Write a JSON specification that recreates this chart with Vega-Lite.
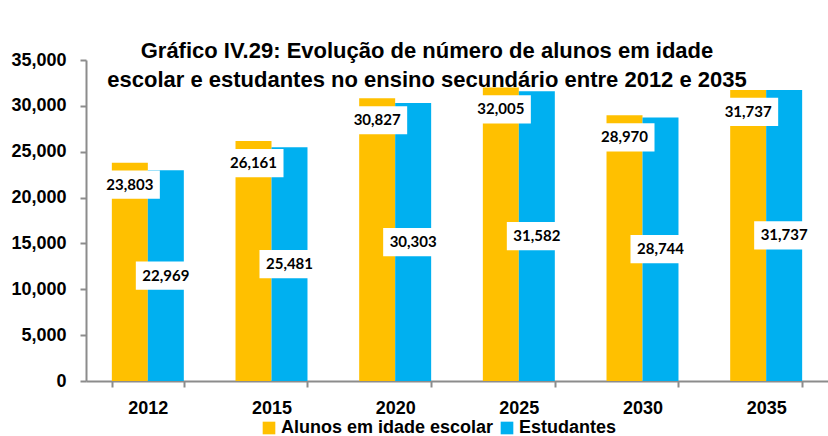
{
  "$schema": "https://vega.github.io/schema/vega-lite/v6.json",
  "width": 742,
  "height": 321,
  "autosize": {"type": "none"},
  "padding": {"left": 86, "top": 60, "right": 0, "bottom": 55},
  "background": "white",
  "title": {
    "text": ["Gráfico IV.29: Evolução de número de alunos em idade", "escolar e estudantes no ensino secundário entre 2012 e 2035"],
    "font": "Liberation Sans",
    "fontSize": 22,
    "fontWeight": "bold",
    "color": "black",
    "anchor": "middle",
    "frame": "group",
    "dx": -30,
    "baseline": "alphabetic",
    "lineHeight": 29,
    "offset": -58
  },
  "data": {
    "values": [
      {"year": "2012", "series": "Alunos em idade escolar", "value": 23803},
      {"year": "2015", "series": "Alunos em idade escolar", "value": 26161},
      {"year": "2020", "series": "Alunos em idade escolar", "value": 30827},
      {"year": "2025", "series": "Alunos em idade escolar", "value": 32005},
      {"year": "2030", "series": "Alunos em idade escolar", "value": 28970},
      {"year": "2035", "series": "Alunos em idade escolar", "value": 31737},
      {"year": "2012", "series": "Estudantes", "value": 22969},
      {"year": "2015", "series": "Estudantes", "value": 25481},
      {"year": "2020", "series": "Estudantes", "value": 30303},
      {"year": "2025", "series": "Estudantes", "value": 31582},
      {"year": "2030", "series": "Estudantes", "value": 28744},
      {"year": "2035", "series": "Estudantes", "value": 31737}
    ]
  },
  "encoding": {
    "x": {
      "field": "year", "type": "nominal",
      "scale": {"paddingInner": 0.418, "paddingOuter": 0.209},
      "axis": {
        "title": null, "labelAngle": 0,
        "labelFont": "Liberation Sans", "labelFontSize": 18, "labelFontWeight": "bold", "labelColor": "black",
        "labelPadding": 12,
        "domainColor": "#8c8c8c", "domainWidth": 2,
        "ticks": true, "tickColor": "#8c8c8c", "tickWidth": 2, "tickSize": 6, "tickBand": "extent"
      }
    },
    "xOffset": {
      "field": "series", "type": "nominal",
      "scale": {"domain": ["Alunos em idade escolar", "Estudantes"], "paddingInner": 0, "paddingOuter": 0}
    }
  },
  "layer": [
    {
      "mark": {"type": "bar"},
      "encoding": {
        "y": {
          "field": "value", "type": "quantitative",
          "scale": {"domain": [0, 35000], "nice": false},
          "axis": {
            "title": null, "values": [0, 5000, 10000, 15000, 20000, 25000, 30000, 35000],
            "labelExpr": "format(datum.value, ',')",
            "labelFont": "Liberation Sans", "labelFontSize": 18, "labelFontWeight": "bold", "labelColor": "black",
            "labelPadding": 14, "grid": false,
            "domainColor": "#8c8c8c", "domainWidth": 2,
            "tickColor": "#8c8c8c", "tickWidth": 2, "tickSize": 6
          }
        },
        "color": {
          "field": "series", "type": "nominal",
          "scale": {"domain": ["Alunos em idade escolar", "Estudantes"], "range": ["#FFC000", "#00B0F0"]},
          "legend": {
            "title": null, "orient": "none", "legendX": 174, "legendY": 359, "direction": "horizontal",
            "symbolType": "square", "symbolSize": 160, "symbolStrokeWidth": 0,
            "labelFont": "Liberation Sans", "labelFontSize": 18, "labelFontWeight": "bold", "labelColor": "black",
            "labelOffset": 3, "columnPadding": 4, "labelLimit": 400
          }
        }
      }
    },
    {
      "transform": [{"filter": "datum.series === 'Alunos em idade escolar'"}],
      "mark": {"type": "point", "shape": "M-1,-0.47H1V0.47H-1Z", "filled": true, "color": "white", "opacity": 1, "size": 3600, "yOffset": 22},
      "encoding": {
        "y": {"field": "value", "type": "quantitative", "scale": {"domain": [0, 35000], "nice": false}, "axis": null}
      }
    },
    {
      "transform": [{"filter": "datum.series === 'Alunos em idade escolar'"}],
      "mark": {"type": "text", "font": "Lato", "fontSize": 15, "fontWeight": "bold", "color": "black", "baseline": "middle", "yOffset": 22},
      "encoding": {
        "y": {"field": "value", "type": "quantitative", "scale": {"domain": [0, 35000], "nice": false}, "axis": null},
        "text": {"field": "value", "type": "quantitative", "format": ","}
      }
    },
    {
      "transform": [{"filter": "datum.series === 'Estudantes'"}],
      "mark": {"type": "point", "shape": "M-1,-0.47H1V0.47H-1Z", "filled": true, "color": "white", "opacity": 1, "size": 3600},
      "encoding": {
        "y": {"field": "value", "type": "quantitative", "scale": {"domain": [0, 70000], "nice": false}, "axis": null}
      }
    },
    {
      "transform": [{"filter": "datum.series === 'Estudantes'"}],
      "mark": {"type": "text", "font": "Lato", "fontSize": 15, "fontWeight": "bold", "color": "black", "baseline": "middle"},
      "encoding": {
        "y": {"field": "value", "type": "quantitative", "scale": {"domain": [0, 70000], "nice": false}, "axis": null},
        "text": {"field": "value", "type": "quantitative", "format": ","}
      }
    }
  ],
  "resolve": {"scale": {"y": "independent"}},
  "config": {"view": {"stroke": null}}
}
